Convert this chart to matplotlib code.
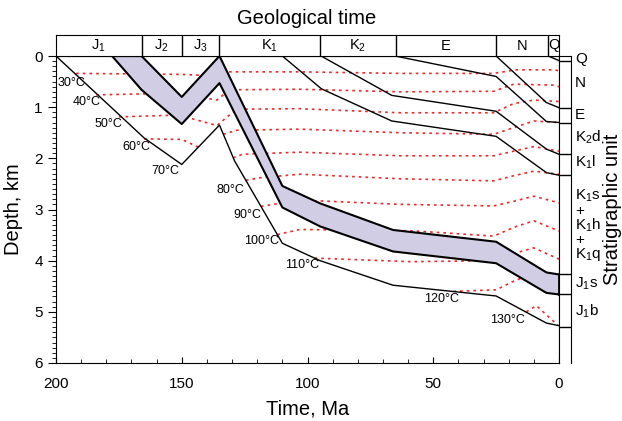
import numpy as np
import matplotlib
matplotlib.use('Agg')
import matplotlib.pyplot as plt
from matplotlib.ticker import MultipleLocator
from matplotlib.transforms import blended_transform_factory

plt.rcParams['font.family'] = 'Liberation Sans'
plt.rcParams['mathtext.fontset'] = 'custom'
plt.rcParams['mathtext.rm'] = 'Liberation Sans'
plt.rcParams['mathtext.it'] = 'Liberation Sans:italic'

# Escala geologica (Ma)
period_names = ['J$_1$', 'J$_2$', 'J$_3$', 'K$_1$', 'K$_2$', 'E', 'N', 'Q']
period_bounds = [200, 166, 150, 135, 95, 65, 25, 4.3, 0]

# Horizontes de enterramiento (edad Ma, profundidad km)
base_t = [200, 165, 150, 135, 129, 110, 95, 66, 25, 5, 0]
base_z = [0, 1.60, 2.12, 1.35, 2.05, 3.66, 4.00, 4.48, 4.69, 5.22, 5.27]

j1s_top_t = [177.7, 166, 150, 135, 110, 95, 66, 25, 5, 0]
j1s_top_z = [0, 0, 0.80, 0, 2.54, 2.88, 3.40, 3.63, 4.23, 4.27]
j1s_bot_t = [177.7, 166, 150, 135, 110, 95, 66, 25, 5, 0]
j1s_bot_z = [0, 0.66, 1.33, 0.53, 2.96, 3.33, 3.82, 4.05, 4.63, 4.66]

k1l_t = [110, 94.5, 66.5, 25, 5, 0]
k1l_z = [0, 0.64, 1.27, 1.57, 2.28, 2.33]
k2_t = [94.6, 66.5, 25, 5, 0]
k2_z = [0, 0.77, 1.08, 1.82, 1.92]
e_t = [65.2, 25, 5, 0]
e_z = [0, 0.40, 1.28, 1.30]
n_t = [25, 5, 0]
n_z = [0, 0.91, 1.01]
q_t = [4.3, 0]
q_z = [0, 0.09]

# Isotermas
iso30_t = [192, 170, 150, 141, 134, 103, 63, 26, 17, 2, 0]
iso30_z = [0.34, 0.35, 0.36, 0.38, 0.31, 0.31, 0.34, 0.34, 0.27, 0.27, 0.29]
iso40_t = [184, 165, 150, 141, 136, 131, 103, 63, 26, 18, 2, 0]
iso40_z = [0.76, 0.74, 0.78, 0.82, 0.86, 0.66, 0.65, 0.70, 0.69, 0.55, 0.57, 0.60]
iso50_t = [175, 155, 147, 136, 131, 128, 103, 63, 26, 18, 10, 0]
iso50_z = [1.19, 1.16, 1.21, 1.36, 1.15, 1.04, 1.03, 1.11, 1.11, 0.93, 0.86, 0.89]
iso60a_t = [165, 150, 143.5]
iso60a_z = [1.62, 1.63, 1.78]
iso60b_t = [133.5, 128, 103, 63, 26, 18, 10, 0]
iso60b_z = [1.53, 1.45, 1.43, 1.50, 1.53, 1.40, 1.27, 1.30]
iso70_t = [129.6, 125.8, 103, 63, 26, 18, 10, 0]
iso70_z = [1.99, 1.92, 1.88, 1.95, 1.95, 1.86, 1.77, 1.86]
iso80_t = [124.5, 119, 103, 63, 26, 18, 10, 0]
iso80_z = [2.43, 2.38, 2.31, 2.40, 2.44, 2.34, 2.25, 2.31]
iso90_t = [118.5, 110, 96, 63, 26, 18, 10, 0]
iso90_z = [2.94, 2.87, 2.83, 2.90, 2.93, 2.84, 2.74, 2.87]
iso100_t = [112, 103, 57, 26, 18, 10, 0]
iso100_z = [3.49, 3.39, 3.42, 3.52, 3.35, 3.22, 3.42]
iso110_t = [97.2, 59, 26, 18, 10, 0]
iso110_z = [3.95, 4.02, 4.00, 3.86, 3.75, 3.97]
iso120_t = [42, 25, 18, 10, 0]
iso120_z = [4.60, 4.57, 4.40, 4.25, 4.50]
iso130_t = [13, 9, 0.5]
iso130_z = [5.00, 4.88, 5.26]

iso_labels = ['30°C', '40°C', '50°C', '60°C', '70°C', '80°C', '90°C', '100°C', '110°C', '120°C', '130°C']
iso_label_t = [193.8, 187.9, 179.1, 168.2, 156.7, 130.8, 124.1, 118.2, 102.1, 46.8, 20.4]
iso_label_z = [0.52, 0.90, 1.32, 1.77, 2.24, 2.61, 3.10, 3.61, 4.08, 4.75, 5.16]

# Columna estratigrafica
strat_bounds = [0, 0.09, 1.01, 1.30, 1.92, 2.33, 4.27, 4.66, 5.29]
strat_names = ['Q', 'N', 'E', 'K$_2$d', 'K$_1$l', 'K$_1$s', '+', 'K$_1$h', '+', 'K$_1$q', 'J$_1$s', 'J$_1$b']
strat_label_z = [0.06, 0.53, 1.15, 1.59, 2.08, 2.74, 3.02, 3.30, 3.59, 3.87, 4.46, 4.98]

W, H = 622, 421
fig = plt.figure(figsize=(W / 100, H / 100), dpi=100)
ax = fig.add_axes([56 / W, 58 / H, 503 / W, 307 / H])
ax_t = fig.add_axes([56 / W, 365 / H, 503 / W, 21 / H])
ax_s = fig.add_axes([559 / W, 58 / H, 12 / W, 307 / H])

red = '#ee2a2a'
isos = [(iso30_t, iso30_z), (iso40_t, iso40_z), (iso50_t, iso50_z),
        (iso60a_t, iso60a_z), (iso60b_t, iso60b_z), (iso70_t, iso70_z),
        (iso80_t, iso80_z), (iso90_t, iso90_z), (iso100_t, iso100_z),
        (iso110_t, iso110_z), (iso120_t, iso120_z), (iso130_t, iso130_z)]
for t, z in isos:
    ax.plot(t, z, color=red, lw=1.2, ls=(0, (1.6, 2.4)), zorder=1)

# banda J1s
poly_t = j1s_top_t + [0] + j1s_bot_t[::-1]
poly_z = j1s_top_z + [j1s_bot_z[-1]] + j1s_bot_z[::-1]
ax.fill(poly_t, poly_z, color='#d1cde4', zorder=2, lw=0)
ax.plot(j1s_top_t, j1s_top_z, color='black', lw=1.5, zorder=3)
ax.plot(j1s_bot_t, j1s_bot_z, color='black', lw=1.5, zorder=3)
ax.plot([0, 0], [j1s_top_z[-1], j1s_bot_z[-1]], color='black', lw=2, zorder=3)

for t, z in [(base_t, base_z), (k1l_t, k1l_z), (k2_t, k2_z), (e_t, e_z), (n_t, n_z), (q_t, q_z)]:
    ax.plot(t, z, color='black', lw=1.0, zorder=3)

for lab, t, z in zip(iso_labels, iso_label_t, iso_label_z):
    ax.text(t, z, lab, fontsize=9, ha='center', va='center', zorder=4)

ax.set_xlim(200, 0)
ax.set_ylim(6, 0)
ax.set_xticks([200, 150, 100, 50, 0])
ax.xaxis.set_minor_locator(MultipleLocator(10))
ax.set_yticks(range(7))
ax.yaxis.set_minor_locator(MultipleLocator(0.1))
ax.tick_params(axis='x', which='both', direction='in', labelsize=11, pad=10)
ax.tick_params(axis='x', which='major', length=4.5)
ax.tick_params(axis='x', which='minor', length=3)
ax.tick_params(axis='y', which='both', direction='out', labelsize=11)
ax.tick_params(axis='y', which='major', length=6)
ax.tick_params(axis='y', which='minor', length=3)
ax.set_xlabel('Time, Ma', fontsize=14.5, labelpad=6)
ax.set_ylabel('Depth, km', fontsize=14.5, labelpad=8)

# escala de tiempo
ax_t.set_xlim(200, 0)
ax_t.set_ylim(0, 1)
ax_t.set_xticks([])
ax_t.set_yticks([])
for b in period_bounds[1:-1]:
    ax_t.axvline(b, color='black', lw=1)
for i, name in enumerate(period_names):
    mid = (period_bounds[i] + period_bounds[i + 1]) / 2
    ax_t.text(mid, 0.5, name, fontsize=10.5, ha='center', va='center')
fig.text(307 / W, 1 - 18 / H, 'Geological time', fontsize=14.5, ha='center', va='center')

# columna
ax_s.set_xlim(0, 1)
ax_s.set_ylim(6, 0)
ax_s.set_xticks([])
ax_s.set_yticks([])
ax_s.spines['bottom'].set_visible(False)
for b in strat_bounds[1:]:
    ax_s.axhline(b, color='black', lw=1)
tr = blended_transform_factory(ax_s.transAxes, ax_s.transData)
for name, z in zip(strat_names, strat_label_z):
    ax_s.text(1.35, z, name, fontsize=11, ha='left', va='center', transform=tr, clip_on=False)
fig.text(612 / W, 1 - 209.5 / H, 'Stratigraphic unit', fontsize=14.5, rotation=90,
         ha='center', va='center')

fig.savefig('out.png', dpi=100)
